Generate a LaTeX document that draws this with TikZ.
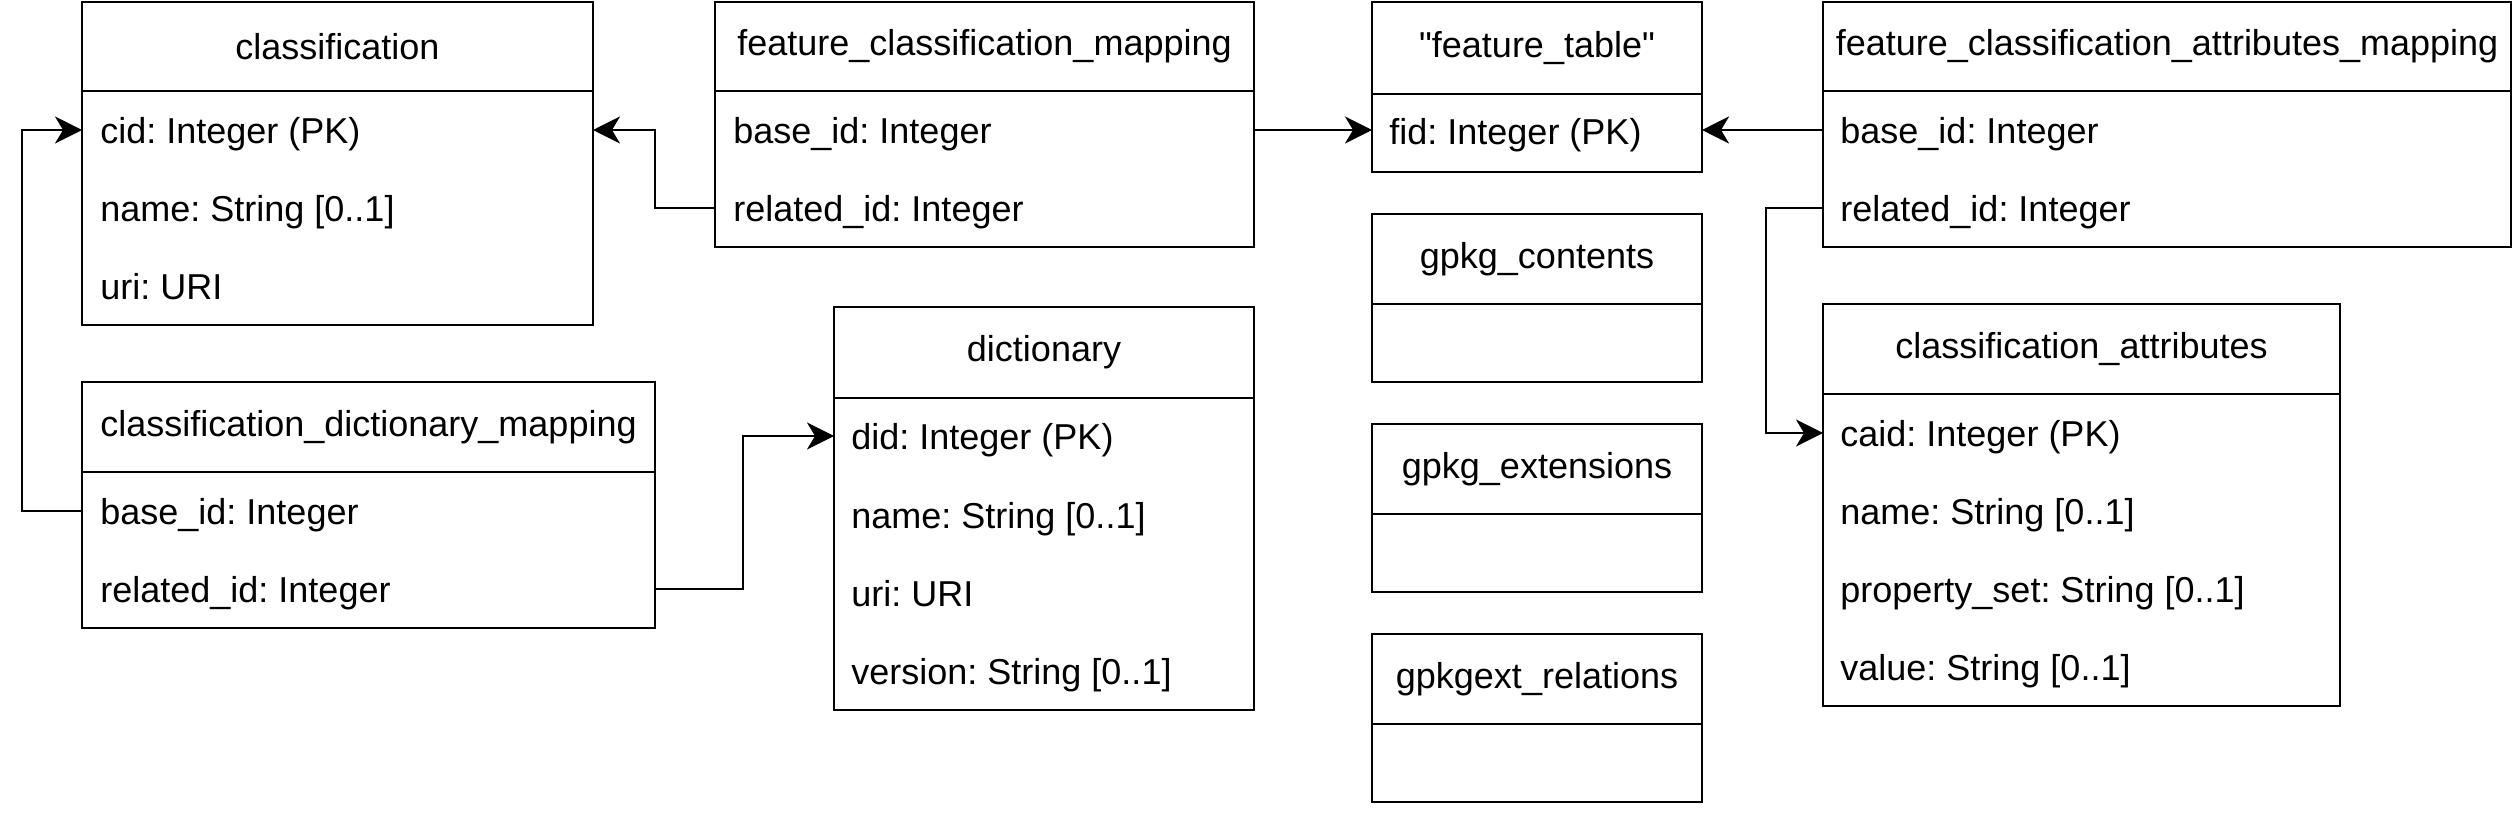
\documentclass[tikz,border=0pt]{standalone}
\usepackage{fontspec}
\setmainfont{Liberation Sans}[Ligatures=TeXOff]
\usetikzlibrary{fit,arrows.meta}
\frenchspacing
\begin{document}
\begin{tikzpicture}[x=0.5pt,y=-0.5pt,
  tbox/.style={draw=black, line width=1.2pt, inner sep=0pt, outer sep=0pt},
  htext/.style={font=\fontsize{18}{21}\selectfont, inner sep=0pt},
  rtext/.style={font=\fontsize{18}{21}\selectfont, inner sep=0pt, anchor=west, text height=16.9pt, text depth=3.8pt},
  conn/.style={line width=1.2pt, -{Stealth[length=13.5pt,width=13.5pt,inset=4pt]}}]
\useasboundingbox (0,0) rectangle (2514,813);
\fill[white] (0,0) rectangle (2514,813);

% classification
\node[tbox, fit={(82,2)(593,91)}] (clsh) {};
\node[tbox, fit={(82,91)(593,325)}] (clsb) {};
\node[htext] (clst) at (clsh.center) {classification};
\node[rtext] (cls1) at (100,130) {cid: Integer (PK)};
\node[rtext] (cls2) at (100,208) {name: String [0..1]};
\node[rtext] (cls3) at (100,286) {uri: URI};

% feature_classification_mapping
\node[tbox, fit={(715,2)(1254,91)}] (fcmh) {};
\node[tbox, fit={(715,91)(1254,247)}] (fcmb) {};
\node[htext] (fcmt) at (fcmh.center) {feature\_classification\_mapping};
\node[rtext] (fcm1) at (733,130) {base\_id: Integer};
\node[rtext] (fcm2) at (733,208) {related\_id: Integer};

% feature_table
\node[tbox, fit={(1372,2)(1702,94)}] (fth) {};
\node[tbox, fit={(1372,94)(1702,172)}] (ftb) {};
\node[htext] (ftt) at (fth.center) {"feature\_table"};
\node[rtext] (ft1) at (1389,131) {fid: Integer (PK)};

% gpkg_contents
\node[tbox, fit={(1372,214)(1702,304)}] (gch) {};
\node[tbox, fit={(1372,304)(1702,382)}] (gcb) {};
\node[htext] (gct) at (gch.center) {gpkg\_contents};

% gpkg_extensions
\node[tbox, fit={(1372,424)(1702,514)}] (geh) {};
\node[tbox, fit={(1372,514)(1702,592)}] (geb) {};
\node[htext] (get) at (geh.center) {gpkg\_extensions};

% gpkgext_relations
\node[tbox, fit={(1372,634)(1702,724)}] (grh) {};
\node[tbox, fit={(1372,724)(1702,802)}] (grb) {};
\node[htext] (grt) at (grh.center) {gpkgext\_relations};

% feature_classification_attributes_mapping
\node[tbox, fit={(1823,2)(2511,91)}] (fcamh) {};
\node[tbox, fit={(1823,91)(2511,247)}] (fcamb) {};
\node[htext] (fcamt) at (fcamh.center) {feature\_classification\_attributes\_mapping};
\node[rtext] (fcam1) at (1840,130) {base\_id: Integer};
\node[rtext] (fcam2) at (1840,208) {related\_id: Integer};

% classification_attributes
\node[tbox, fit={(1823,304)(2340,394)}] (cah) {};
\node[tbox, fit={(1823,394)(2340,706)}] (cab) {};
\node[htext] (cat) at (cah.center) {classification\_attributes};
\node[rtext] (ca1) at (1840,433) {caid: Integer (PK)};
\node[rtext] (ca2) at (1840,511) {name: String [0..1]};
\node[rtext] (ca3) at (1840,589) {property\_set: String [0..1]};
\node[rtext] (ca4) at (1840,667) {value: String [0..1]};

% classification_dictionary_mapping
\node[tbox, fit={(82,382)(655,472)}] (cdmh) {};
\node[tbox, fit={(82,472)(655,628)}] (cdmb) {};
\node[htext] (cdmt) at (cdmh.center) {classification\_dictionary\_mapping};
\node[rtext] (cdm1) at (100,511) {base\_id: Integer};
\node[rtext] (cdm2) at (100,589) {related\_id: Integer};

% dictionary
\node[tbox, fit={(834,307)(1254,398)}] (dich) {};
\node[tbox, fit={(834,398)(1254,710)}] (dicb) {};
\node[htext] (dict) at (dich.center) {dictionary};
\node[rtext] (dic1) at (851,436) {did: Integer (PK)};
\node[rtext] (dic2) at (851,515) {name: String [0..1]};
\node[rtext] (dic3) at (851,593) {uri: URI};
\node[rtext] (dic4) at (851,671) {version: String [0..1]};

% connectors
\draw[conn] (fcm2 -| fcmb.west) -- ++(-60,0) |- (cls1 -| clsb.east);
\draw[conn] (fcm1 -| fcmb.east) -- (fcm1 -| ftb.west);
\draw[conn] (fcam1 -| fcamb.west) -- (fcam1 -| ftb.east);
\draw[conn] (fcam2 -| fcamb.west) -- ++(-57,0) |- (ca1 -| cab.west);
\draw[conn] (cdm1 -| cdmb.west) -- ++(-60,0) |- (cls1 -| clsb.west);
\draw[conn] (cdm2 -| cdmb.east) -- ++(88,0) |- (dic1 -| dicb.west);
\end{tikzpicture}
\end{document}
